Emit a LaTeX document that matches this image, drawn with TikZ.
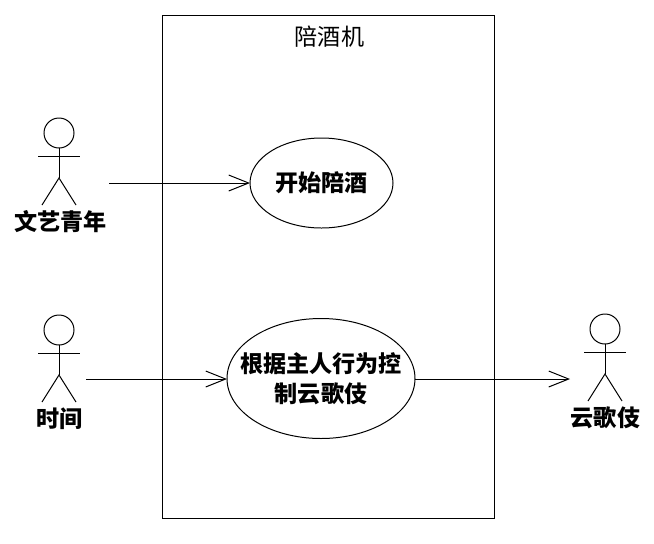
\documentclass[tikz,border=0pt]{standalone}
\usepackage{fontspec}
\setmainfont{Noto Sans CJK SC}
\newfontfamily\cjkbold{Noto Sans CJK SC}
\usetikzlibrary{arrows.meta}
\newcommand{\px}{0.0264583cm}
\begin{document}
\begin{tikzpicture}[x=\px,y=-\px,
  line/.style={draw=black,line width=0.75pt},
  arrowline/.style={line,-{Straight Barb[length=15pt,width=12pt,line width=0.75pt]}},
  lbl/.style={font=\fontsize{17.4pt}{22.5pt}\selectfont\cjkbold\bfseries,align=center,text=black,inner sep=0pt},
  ttl/.style={font=\fontsize{17.4pt}{20pt}\selectfont,text=black,inner sep=0pt}]
\useasboundingbox (0,0) rectangle (654,543);
\path[fill=white] (0,0) rectangle (654,543);
\node[draw=black,line width=0.75pt,minimum width=333*0.75pt,minimum height=504*0.75pt,inner sep=0pt] (sys) at (328.5,267) {};
\node[ttl] (title) at (329.5,37) {陪酒机};
\draw[line] (250,183) arc[x radius=71.5,y radius=45,start angle=180,end angle=-180];
\coordinate (uc1w) at (250,183);
\node[lbl] (uc1) at (321.5,183) {开始陪酒};
\draw[line] (227,378.5) arc[x radius=94,y radius=60,start angle=180,end angle=-180];
\coordinate (uc2w) at (227,379);
\coordinate (uc2e) at (415,379);
\node[lbl] (uc2) at (321,379) {根据主人行为控\\制云歌伎};
% actors
\foreach \n/\x/\y in {a/59/118,b/59/315,c/605/314}{
  \draw[line] (\x,\y+15) circle[radius=15];
  \draw[line] (\x,\y+30) -- (\x,\y+60);
  \draw[line] (\x-21,\y+38) -- (\x+21,\y+38);
  \draw[line] (\x-17,\y+87) -- (\x,\y+60) -- (\x+17,\y+87);
}
\node[lbl] (la) at (60.5,222) {文艺青年};
\node[lbl] (lb) at (59.5,419) {时间};
\node[lbl] (lc) at (605.5,418) {云歌伎};
\coordinate (aa) at (109,183);
\coordinate (bb) at (86,379);
\coordinate (cc) at (570,379);
\draw[arrowline] (aa) -- (uc1w);
\draw[arrowline] (bb) -- (uc2w);
\draw[arrowline] (uc2e) -- (cc);
\end{tikzpicture}
\end{document}
